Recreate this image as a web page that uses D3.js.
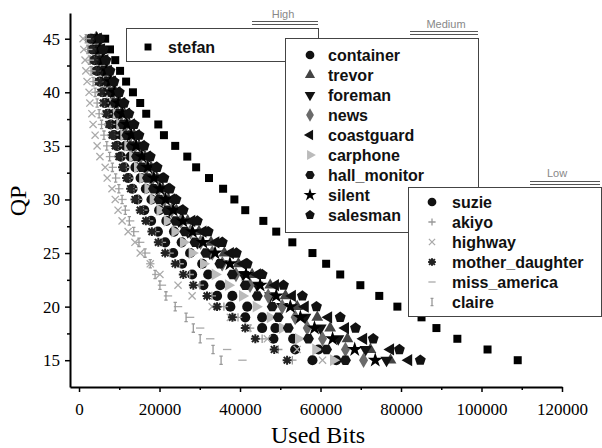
<!DOCTYPE html>
<html>
<head>
<meta charset="utf-8">
<script src="https://cdn.jsdelivr.net/npm/d3@7"></script>
<style>
  body { margin: 0; background: #fff; }
</style>
</head>
<body>
<script>
// QP values (y) and used bits per sequence (x)
const qp = [15,16,17,18,19,20,21,22,23,24,25,26,27,28,29,30,31,32,33,34,35,36,37,38,39,40,41,42,43,44,45];

const stefan        = [109000,101500,94000,88800,85100,79100,74600,69900,64900,61400,58000,53000,49000,45800,41300,38600,35800,32300,29100,26900,23900,21100,19700,16700,15200,13400,11700,10200,9000,7700,6500];
const container     = [63900,59500,53200,48800,45500,41800,38100,35100,32100,30600,27600,25500,23600,21700,19900,18000,16600,15300,14000,12800,11600,10600,9600,8700,7800,7000,6200,5400,4700,4000,3300];
const trevor        = [77400,72400,66700,62400,59200,54200,51300,47500,43000,39600,36100,32800,29800,27000,24200,22200,20800,19400,17900,16400,14900,13700,12500,11300,10200,9100,8000,7000,6100,5300,4500];
const foreman       = [76400,71200,64400,60000,56200,50500,47500,44300,40800,35500,32500,29400,27000,24800,22500,20800,19500,18100,16700,15300,13900,12800,11700,10600,9600,8600,7600,6700,5800,5000,4300];
const news          = [70700,66200,60500,56700,53700,50500,47000,42500,39000,35600,33100,30200,27700,25300,23000,21200,19800,18300,16800,15300,13900,12700,11600,10500,9500,8500,7500,6600,5700,4900,4200];
const coastguard    = [81900,77400,70700,66200,62000,56200,53000,48800,44300,40800,37600,34000,30800,28000,25000,23000,21600,20100,18500,16900,15400,14200,13000,11800,10600,9400,8300,7300,6400,5600,4800];
const carphone      = [63200,58800,54500,50500,47500,44000,40600,37100,33800,30900,28100,25900,23800,21900,20100,18400,17100,15800,14500,13300,12100,11100,10100,9200,8300,7500,6700,5900,5100,4400,3700];
const hall_monitor  = [66200,61500,57000,52000,49500,48000,44300,41300,38100,35000,31500,28800,26300,24000,21900,19900,18500,17000,15600,14300,13000,11900,10900,9900,8900,8000,7000,6100,5300,4500,3800];
const silent        = [73600,68500,63000,58500,55000,52500,49000,45000,41500,37500,33800,30800,28200,25800,23400,21500,20100,18600,17100,15600,14200,13000,11900,10800,9800,8800,7800,6800,5900,5100,4400];
const salesman      = [84800,79600,73100,68700,64900,59000,55500,50800,45500,41800,39100,35600,32100,29400,25900,24100,22600,21100,19400,17700,16200,14900,13700,12400,11200,10000,8700,7700,6700,6000,5200];
const suzie         = [58000,53700,48300,45500,41300,37600,34300,30900,28100,25600,23400,21400,19600,17900,16200,14500,13300,12300,11300,10400,9500,8700,7900,7200,6500,5900,5200,4500,3900,3300,2800];
const akiyo         = [53000,49500,45500,42500,39500,36000,33000,30000,27500,25000,22500,20600,19000,17400,16000,14800,13600,12600,11700,10700,9700,8800,8000,7200,6400,5700,5000,4300,3700,3100,2600];
const highway       = [60500,54200,46800,42000,37600,33100,28100,24600,20100,17700,15200,13900,12200,10700,9700,9000,8200,7000,6500,5200,4500,4000,3500,3200,2700,2500,2000,1700,1500,1200,1000];
const mother_daughter = [51700,48500,43800,41300,38100,34300,31800,28400,25900,23900,21400,19700,18100,16600,15200,13900,12800,11800,10800,9900,9000,8200,7400,6700,6000,5400,4800,4200,3600,3100,2600];
const miss_america  = [40600,36800,32600,30100,27600,24600,22100,20600,19200,17700,16700,15200,13900,12700,11600,10800,10000,9200,8400,7700,7000,6300,5700,5100,4600,4100,3600,3100,2700,2300,1900];
const claire        = [35300,33300,30100,28400,26600,23900,21600,20100,18900,17700,16400,14900,13600,12500,11500,10700,9900,9100,8300,7600,6900,6200,5600,5000,4500,4000,3500,3000,2600,2200,1800];

const xTicks = [0,20000,40000,60000,80000,100000,120000];
const xMinor = [10000,30000,50000,70000,90000,110000];
const yTicks = [15,20,25,30,35,40,45];
const yMinor = [17.5,22.5,27.5,32.5,37.5,42.5];

// symbol shapes (Origin default order)
function polygon(n, rot) {
  return {draw(ctx, size) {
    const r = Math.sqrt(2 * size / (n * Math.sin(2 * Math.PI / n)));
    for (let i = 0; i < n; i++) {
      const a = rot + i * 2 * Math.PI / n;
      if (i) ctx.lineTo(r * Math.cos(a), r * Math.sin(a));
      else ctx.moveTo(r * Math.cos(a), r * Math.sin(a));
    }
    ctx.closePath();
  }};
}
const lines = segs => ({draw(ctx, size) {
  const r = Math.sqrt(size) / 2;
  segs.forEach(([a, b, c, d]) => { ctx.moveTo(a * r, b * r); ctx.lineTo(c * r, d * r); });
}});
const plus = lines([[-1,0,1,0],[0,-1,0,1]]);
const times = lines([[-0.8,-0.8,0.8,0.8],[-0.8,0.8,0.8,-0.8]]);
const aster = lines([[-1,0,1,0],[0,-1,0,1],[-0.75,-0.75,0.75,0.75],[-0.75,0.75,0.75,-0.75]]);
const dash = lines([[-1,0,1,0]]);
const bar = lines([[0,-1,0,1],[-0.4,-1,0.4,-1],[-0.4,1,0.4,1]]);

const series = [
  {name: "stefan", v: stefan, sym: d3.symbolSquare, size: 64, c: "#000"},
  {name: "container", v: container, sym: d3.symbolCircle, size: 80, c: "#111"},
  {name: "trevor", v: trevor, sym: polygon(3, -Math.PI / 2), size: 60, c: "#444"},
  {name: "foreman", v: foreman, sym: polygon(3, Math.PI / 2), size: 65, c: "#111"},
  {name: "news", v: news, sym: d3.symbolDiamond, size: 70, c: "#6a6a6a"},
  {name: "coastguard", v: coastguard, sym: polygon(3, Math.PI), size: 65, c: "#111"},
  {name: "carphone", v: carphone, sym: polygon(3, 0), size: 60, c: "#bbb"},
  {name: "hall_monitor", v: hall_monitor, sym: polygon(6, 0), size: 78, c: "#151515"},
  {name: "silent", v: silent, sym: d3.symbolStar, size: 70, c: "#000"},
  {name: "salesman", v: salesman, sym: polygon(5, -Math.PI / 2), size: 78, c: "#111"},
  {name: "suzie", v: suzie, sym: d3.symbolCircle, size: 80, c: "#111"},
  {name: "akiyo", v: akiyo, sym: plus, size: 70, c: "#999", line: true, sw: 1.3},
  {name: "highway", v: highway, sym: times, size: 80, c: "#aaa", line: true, sw: 1.3},
  {name: "mother_daughter", v: mother_daughter, sym: aster, size: 80, c: "#222", line: true, sw: 2},
  {name: "miss_america", v: miss_america, sym: dash, size: 70, c: "#aaa", line: true, sw: 1.3},
  {name: "claire", v: claire, sym: bar, size: 70, c: "#999", line: true, sw: 1.3}
];

const width = 602, height = 448;
const x = d3.scaleLinear().domain([-2240, 120000]).range([70, 562]);
const y = d3.scaleLinear().domain([12.5, 47.4]).range([387, 13]);

const svg = d3.select("body").append("svg")
    .attr("width", width)
    .attr("height", height)
    .style("font-family", "'Liberation Serif', serif");

// points
series.forEach(s => {
  svg.append("g")
    .selectAll("path")
    .data(qp.map((q, i) => [s.v[i], q]))
    .join("path")
      .attr("transform", d => `translate(${x(d[0])},${y(d[1])})`)
      .attr("d", d3.symbol(s.sym, s.size))
      .attr("fill", s.line ? "none" : s.c)
      .attr("stroke", s.line ? s.c : "none")
      .attr("stroke-width", s.line ? s.sw : 0);
});

// axes
svg.append("g")
    .attr("transform", `translate(0,387)`)
    .call(d3.axisBottom(x).tickValues(xTicks).tickSize(5).tickSizeOuter(0).tickPadding(11).tickFormat(d3.format("d")));
svg.append("g")
    .attr("transform", `translate(0,387)`)
    .call(d3.axisBottom(x).tickValues(xMinor).tickSize(3).tickFormat(""))
    .select(".domain").remove();

svg.append("g")
    .attr("transform", `translate(70,0)`)
    .call(d3.axisLeft(y).tickValues(yTicks).tickSize(5).tickSizeOuter(0).tickPadding(5));
svg.append("g")
    .attr("transform", `translate(70,0)`)
    .call(d3.axisLeft(y).tickValues(yMinor).tickSize(3).tickFormat(""))
    .select(".domain").remove();

svg.selectAll(".tick text")
    .attr("font-size", 17)
    .attr("font-family", "'Liberation Serif', serif")
    .attr("fill", "#000");
svg.selectAll(".tick line").attr("stroke", "#000").attr("stroke-width", 1.5);
svg.selectAll(".domain").attr("stroke", "#000").attr("stroke-width", 2);

svg.append("text")
    .attr("x", 318).attr("y", 443)
    .attr("text-anchor", "middle")
    .attr("font-size", 24)
    .text("Used Bits");

svg.append("text")
    .attr("transform", "translate(26,201) rotate(-90)")
    .attr("text-anchor", "middle")
    .attr("font-size", 24)
    .text("QP");

// legends
function legend(title, names, box, titleX, titleY, ulX0, ulX1, ulY, symX, textX, rowY) {
  const g = svg.append("g");
  g.append("rect")
      .attr("x", box[0] + 0.5).attr("y", box[1] + 0.5)
      .attr("width", box[2]).attr("height", box[3])
      .attr("fill", "#fff").attr("stroke", "#444").attr("stroke-width", 1);
  g.append("text")
      .attr("x", titleX).attr("y", titleY)
      .attr("text-anchor", "middle")
      .attr("font-family", "'Liberation Sans', sans-serif")
      .attr("font-size", 11)
      .attr("fill", "#888")
      .text(title);
  [0, 3].forEach(o => g.append("line")
      .attr("x1", ulX0).attr("x2", ulX1)
      .attr("y1", ulY + o).attr("y2", ulY + o)
      .attr("stroke", "#555").attr("stroke-width", 1));
  names.forEach((n, i) => {
    const s = series.find(d => d.name === n);
    const yy = rowY + i * 20;
    g.append("path")
        .attr("transform", `translate(${symX},${yy})`)
        .attr("d", d3.symbol(s.sym, s.size * 0.75))
        .attr("fill", s.line ? "none" : s.c)
        .attr("stroke", s.line ? s.c : "none")
        .attr("stroke-width", s.line ? s.sw : 0);
    g.append("text")
        .attr("x", textX).attr("y", yy)
        .attr("dy", "0.35em")
        .attr("font-family", "'Liberation Sans', sans-serif")
        .attr("font-weight", "bold")
        .attr("font-size", 16)
        .attr("fill", "#111")
        .text(n);
  });
}

legend("High", ["stefan"], [126, 28, 192, 33], 283, 18, 252, 318, 21.5, 148, 168, 47);
legend("Medium", ["container","trevor","foreman","news","coastguard","carphone","hall_monitor","silent","salesman"],
       [285, 38, 193, 194], 446, 28, 410, 478, 31.5, 310, 328, 55);
legend("Low", ["suzie","akiyo","highway","mother_daughter","miss_america","claire"],
       [408, 187, 193, 129], 557, 177, 530, 600, 181.5, 432, 452, 202);
</script>
</body>
</html>
